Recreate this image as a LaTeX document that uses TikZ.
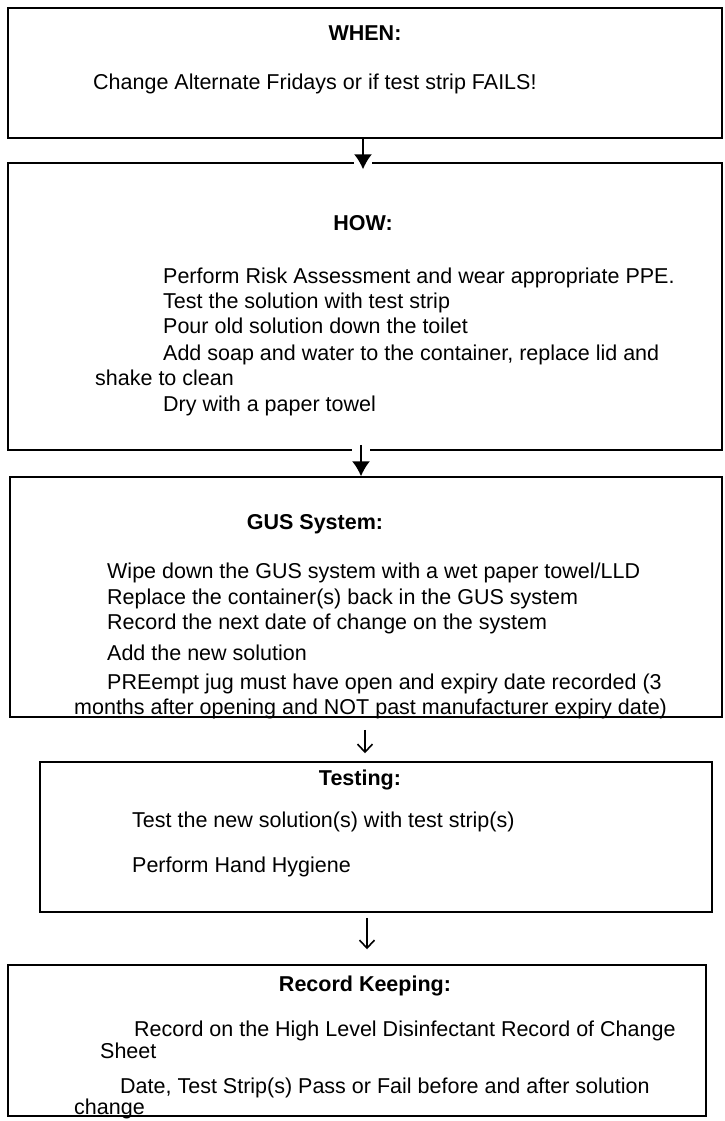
\documentclass[tikz,border=0pt]{standalone}
\usepackage{fontspec}
\setmainfont{Liberation Sans}
\usetikzlibrary{arrows.meta,fit}
\begin{document}
\begin{tikzpicture}[x=1pt,y=-1pt,
  box/.style={draw, line width=1.5pt, inner sep=0pt},
  txt/.style={anchor=base west, inner sep=0pt, font=\fontsize{21.5}{25}\selectfont},
  ttl/.style={anchor=base, inner sep=0pt, font=\fontsize{21.5}{25}\selectfont\bfseries},
  fillarrow/.style={-{Latex[length=15pt,width=18pt]}, line width=1.5pt},
  linearrow/.style={-{Straight Barb[length=8pt,width=15pt,line width=1.6pt]}, line width=1.6pt}]
\fill[white] (0,0) rectangle (724,1121);
\useasboundingbox (0,0) rectangle (724,1121);

% boxes
\node[box, fit={(8,8)(722,138)}] (b1) {};
\node[box, fit={(8,163)(722,450)}] (b2) {};
\node[box, fit={(10,477)(722,717)}] (b3) {};
\node[box, fit={(40,762)(712,912)}] (b4) {};
\node[box, fit={(8,965)(706,1116)}] (b5) {};

% arrow axes
\coordinate (x1) at (363,0);
\coordinate (x2) at (361,0);
\coordinate (x3) at (365,0);
\coordinate (x4) at (367,0);

% box 1
\node[ttl] (t1) at (365,41) {WHEN:};
\node[txt] (l11) at (93,90) {Change Alternate Fridays or if test strip FAILS!};

% box 2
\node[ttl] (t2) at (363,230) {HOW:};
\node[txt] (l21) at (163,283) {Perform Risk Assessment and wear appropriate PPE.};
\node[txt] (l22) at (163,308) {Test the solution with test strip};
\node[txt] (l23) at (163,333) {Pour old solution down the toilet};
\node[txt] (l24) at (163,360) {Add soap and water to the container, replace lid and};
\node[txt] (l25) at (95,385) {shake to clean};
\node[txt] (l26) at (163,411) {Dry with a paper towel};

% box 3
\node[ttl] (t3) at (315,529) {GUS System:};
\node[txt] (l31) at (107,578) {Wipe down the GUS system with a wet paper towel/LLD};
\node[txt] (l32) at (107,604) {Replace the container(s) back in the GUS system};
\node[txt] (l33) at (107,629) {Record the next date of change on the system};
\node[txt] (l34) at (107,660) {Add the new solution};
\node[txt] (l35) at (107,689) {PREempt jug must have open and expiry date recorded (3};
\node[txt] (l36) at (74,714) {months after opening and NOT past manufacturer expiry date)};

% box 4
\node[ttl] (t4) at (360,785) {Testing:};
\node[txt] (l41) at (132,827) {Test the new solution(s) with test strip(s)};
\node[txt] (l42) at (132,872) {Perform Hand Hygiene};

% box 5
\node[ttl] (t5) at (365,991) {Record Keeping:};
\node[txt] (l51) at (134,1036) {Record on the High Level Disinfectant Record of Change};
\node[txt] (l52) at (100,1058) {Sheet};
\node[txt] (l53) at (120,1093) {Date, Test Strip(s) Pass or Fail before and after solution};
\node[txt] (l54) at (74,1114) {change};

% connectors
\fill[white] ([xshift=-9pt,yshift=2pt]b2.north -| x1) rectangle ([xshift=9pt,yshift=-2pt]b2.north -| x1);
\draw[fillarrow] (b1.south -| x1) -- ([yshift=-7pt]b2.north -| x1);
\fill[white] ([xshift=-9pt,yshift=3pt]b2.south -| x2) rectangle ([xshift=9pt,yshift=-3pt]b2.south -| x2);
\draw[fillarrow] ([yshift=6pt]b2.south -| x2) -- (b3.north -| x2);
\draw[linearrow] ([yshift=-12pt]b3.south -| x3) -- ([yshift=8pt]b4.north -| x3);
\draw[linearrow, line width=2pt] ([yshift=-5pt]b4.south -| x4) -- ([yshift=15pt]b5.north -| x4);
\end{tikzpicture}
\end{document}
